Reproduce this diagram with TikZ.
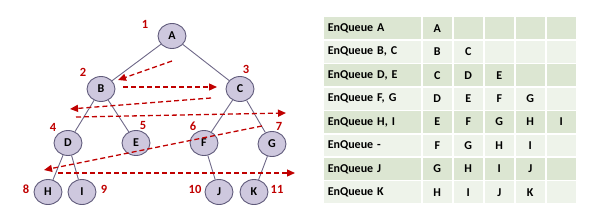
\documentclass[tikz,border=0pt]{standalone}
\usepackage{fontspec}
\setmainfont{Carlito}
\usetikzlibrary{shapes.geometric, arrows.meta, positioning}
\definecolor{nodefill}{HTML}{CEC8DE}
\definecolor{nodeline}{HTML}{5F5A7A}
\definecolor{edgecol}{HTML}{6E6888}
\definecolor{bfsred}{HTML}{C00000}
\definecolor{rowdark}{HTML}{DCE6D2}
\definecolor{rowlight}{HTML}{EEF3EA}

\begin{document}
\begin{tikzpicture}[
    x=1pt, y=-1pt,
    nd/.style={draw=nodeline, fill=nodefill, ellipse, line width=0.9pt, inner sep=0pt, minimum width=28pt, minimum height=25pt, font=\fontsize{12}{14}\selectfont\bfseries},
    edge/.style={draw=edgecol, line width=0.9pt},
    num/.style={text=bfsred, inner sep=0pt, font=\fontsize{12.5}{14}\selectfont\bfseries},
    arr/.style={-{Triangle[length=8pt, width=7pt]}, bfsred, line width=1.3pt, dash pattern=on 5pt off 3pt},
    cell/.style={draw=white, line width=1.5pt, inner sep=0pt, minimum height=23.4pt, anchor=north west, font=\fontsize{12}{14}\selectfont\bfseries},
]
    \useasboundingbox (0,0) rectangle (592,222);

    % Tree
    \node[nd] (A) at (172,36) {A};
    \node[nd] (B) at (101,89) {B};
    \node[nd] (C) at (240,89) {C};
    \node[nd] (D) at (68,143) {D};
    \node[nd] (E) at (136,143) {E};
    \node[nd] (F) at (204,143) {F};
    \node[nd] (G) at (272,144) {G};
    \node[nd] (H) at (48,192) {H};
    \node[nd] (I) at (82,192) {I};
    \node[nd] (J) at (219,192) {J};
    \node[nd] (K) at (254,192) {K};

    \draw[edge] (A) -- (B);
    \draw[edge] (A) -- (C);
    \draw[edge] (B) -- (D);
    \draw[edge] (B) -- (E);
    \draw[edge] (C) -- (F);
    \draw[edge] (C) -- (G);
    \draw[edge] (D) -- (H);
    \draw[edge] (D) -- (I);
    \draw[edge] (F) -- (J);
    \draw[edge] (G) -- (K);

    % Visit order
    \node[num] (n1) at (145,24) {1};
    \node[num] (n2) at (83,72) {2};
    \node[num] (n3) at (246,69) {3};
    \node[num] (n4) at (53,127) {4};
    \node[num] (n5) at (143,125) {5};
    \node[num] (n6) at (193,126) {6};
    \node[num] (n7) at (279,126) {7};
    \node[num] (n8) at (26,189) {8};
    \node[num] (n9) at (104,189) {9};
    \node[num] (n10) at (195,189) {10};
    \node[num] (n11) at (277,189) {11};

    % Level-order sweep
    \coordinate (w1s) at (172,61);  \coordinate (w1e) at (118,80);
    \coordinate (w2s) at (123,87);  \coordinate (w2e) at (217,87);
    \coordinate (w3s) at (211,98);  \coordinate (w3e) at (70,109);
    \coordinate (w4s) at (76,117);  \coordinate (w4e) at (286,113);
    \coordinate (w5s) at (262,126); \coordinate (w5e) at (44,170);
    \coordinate (w6s) at (58,173);  \coordinate (w6e) at (295,173);
    \foreach \w in {1,...,6}
        \draw[arr] (w\w s) -- (w\w e);

    % Queue table
    \foreach \lab/\items [count=\r] in {
        {EnQueue A}/{A},
        {EnQueue B, C}/{B,C},
        {EnQueue D, E}/{C,D,E},
        {EnQueue F, G}/{D,E,F,G},
        {EnQueue H, I}/{E,F,G,H,I},
        {EnQueue -}/{F,G,H,I},
        {EnQueue J}/{G,H,I,J},
        {EnQueue K}/{H,I,J,K}}
    {
        \ifodd\r \def\rowcol{rowdark}\else \def\rowcol{rowlight}\fi
        \node[cell, fill=\rowcol, minimum width=99pt, text width=89pt, inner xsep=5pt, align=left]
            (l\r) at (322,{16+(\r-1)*23.4}) {\lab};
        \foreach \c in {1,...,5}
            \node[cell, fill=\rowcol, minimum width=31pt] (q\r-\c) at ({421+(\c-1)*31},{16+(\r-1)*23.4}) {};
        \foreach \q [count=\c] in \items
            \node[font=\fontsize{12}{14}\selectfont\bfseries, inner sep=0pt] at (q\r-\c.center) {\q};
    }
\end{tikzpicture}
\end{document}
